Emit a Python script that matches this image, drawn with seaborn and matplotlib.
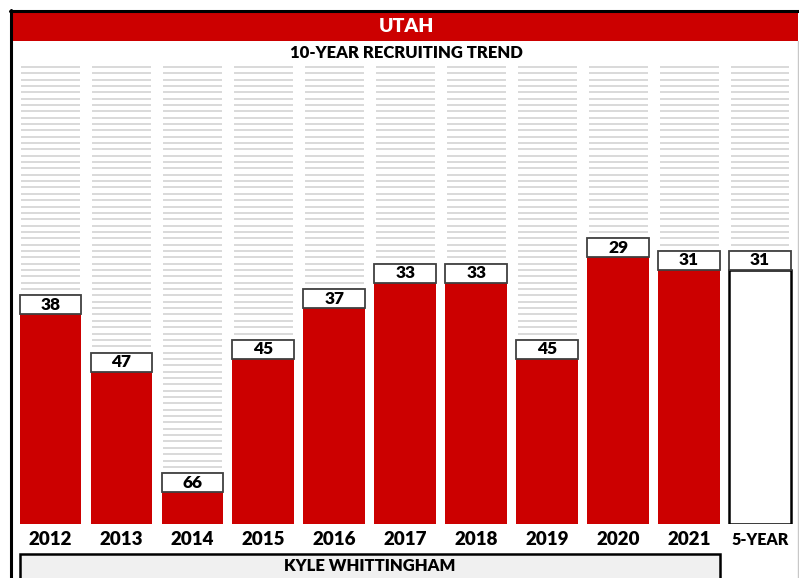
# Utah 10-year recruiting trend (class rank per year)
import numpy as np
import pandas as pd
import seaborn as sns
import matplotlib.pyplot as plt
import matplotlib
from matplotlib.patches import Rectangle

sns.set_style('white')
plt.rcParams['font.family'] = ['Lato', 'Open Sans', 'DejaVu Sans']

# Data
labels = ['2012', '2013', '2014', '2015', '2016', '2017', '2018', '2019', '2020', '2021', '5-YEAR']
ranks = [38, 47, 66, 45, 37, 33, 33, 45, 29, 31, 31]
team = 'UTAH'
subtitle = '10-YEAR RECRUITING TREND'
coach = 'KYLE WHITTINGHAM'

RED = '#cc0000'
FLOOR = 71  # rank that maps to zero bar height
WT = 'heavy'

df = pd.DataFrame({'label': labels, 'rank': ranks})
df['height'] = FLOOR - df['rank']

W, H = 799, 578
fig = plt.figure(figsize=(W / 100, H / 100), dpi=100)

def px(x0, y0, x1, y1):
    # pixel box (top-left origin) -> figure fraction rect
    return [x0 / W, 1 - y1 / H, (x1 - x0) / W, (y1 - y0) / H]

# Main bar axes
unit = 6.35
top = 74
ax = fig.add_axes(px(15, 524 - top * unit, 795.5, 524))

bar_w = 0.87
# striped background per column
for i in range(len(labels)):
    ax.hlines(np.arange(0, 73), i - bar_w / 2 + 0.02, i + bar_w / 2 - 0.02,
              color='#d9d9d9', linewidth=1.4, zorder=0)

palette = {l: RED for l in labels[:-1]}
palette['5-YEAR'] = 'white'
sns.barplot(data=df, x='label', y='height', hue='label', palette=palette,
            width=bar_w, legend=False, saturation=1, ax=ax, zorder=2)
ax.set_xlim(-0.5, 10.5)
ax.set_ylim(0, top)
ax.axis('off')

for i, p in enumerate(ax.patches):
    if labels[i] == '5-YEAR':
        p.set_edgecolor('black')
        p.set_linewidth(1.8)
    else:
        p.set_edgecolor('none')

# value boxes on top of each bar
for i, (h, r) in enumerate(zip(df['height'], df['rank'])):
    ax.add_patch(Rectangle((i - bar_w / 2, h), bar_w, 3, facecolor='white',
                           edgecolor='#404040', linewidth=1.3, zorder=3))
    ax.text(i, h + 1.5, str(r), ha='center', va='center', fontsize=12.5,
            fontweight=WT, color='black', zorder=4)

# year labels
for i, l in enumerate(labels):
    fs = 11.5 if l == '5-YEAR' else 13.5
    ax.text(i, -2.5, l, ha='center', va='center', fontsize=fs,
            fontweight=WT, color='black', clip_on=False)

# Header and frame
bg = fig.add_axes([0, 0, 1, 1], zorder=-1)
bg.set_xlim(0, W)
bg.set_ylim(H, 0)
bg.axis('off')
bg.add_patch(Rectangle((10, 11), W - 11, 30, facecolor=RED, edgecolor='none'))
bg.plot([10, W], [10.5, 10.5], color='black', linewidth=2.2)
bg.plot([10.5, 10.5], [10, H], color='black', linewidth=2.2)
bg.plot([797.5, 797.5], [41, H], color='#c8c8c8', linewidth=1)

fig.text(406 / W, 1 - 27 / H, team, ha='center', va='center', fontsize=14,
         fontweight=WT, color='white')
fig.text(406 / W, 1 - 53 / H, subtitle, ha='center', va='center', fontsize=12,
         fontweight=WT, color='black')

# coach box
bg.add_patch(Rectangle((20, 554), 700, 30, facecolor='#f0f0f0', edgecolor='black',
                       linewidth=1.8))
fig.text(370 / W, 1 - 566 / H, coach, ha='center', va='center', fontsize=12,
         fontweight=WT, color='black')

fig.savefig('out.png', dpi=100)
